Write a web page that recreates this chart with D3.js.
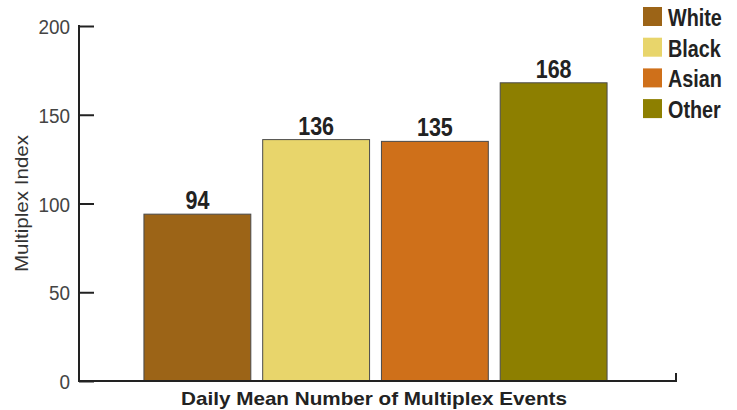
<!DOCTYPE html>
<html>
<head>
<meta charset="utf-8">
<script src="https://cdn.jsdelivr.net/npm/d3@7/dist/d3.min.js"></script>
<style>
  html, body { margin: 0; padding: 0; background: #fff; }
  svg { display: block; }
  .cond { font-family: "Liberation Sans", Arial, sans-serif; font-weight: bold; }
</style>
</head>
<body>
<svg id="chart" width="737" height="410"></svg>
<script>
// Multiplex index by race group
const categories = ["White", "Black", "Asian", "Other"];
const values = [94, 136, 135, 168];
const colors = ["#9C6417", "#E8D56B", "#CF701A", "#8D7F00"];
const yTicks = [0, 50, 100, 150, 200];
const xTitle = "Daily Mean Number of Multiplex Events";
const yTitle = "Multiplex Index";

const svg = d3.select("#chart");

const x0 = 79, x1 = 676, yTop = 26, yBottom = 381;
const squeeze = 0.86; // horizontal compression for the heavy condensed labels

const y = d3.scaleLinear().domain([0, 200]).range([yBottom, yTop]);
const x = d3.scaleBand().domain(categories).range([138, 613]).paddingInner(0.1).paddingOuter(0.05);

// bars
svg.append("g").selectAll("rect")
  .data(categories)
  .join("rect")
  .attr("x", d => x(d))
  .attr("width", x.bandwidth())
  .attr("y", (d, i) => y(values[i]))
  .attr("height", (d, i) => y(0) - y(values[i]))
  .attr("fill", (d, i) => colors[i])
  .attr("stroke", "#4a4a4a")
  .attr("stroke-width", 1);

// value labels
svg.append("g").selectAll("text")
  .data(categories)
  .join("text")
  .attr("class", "cond")
  .attr("transform", (d, i) => `translate(${x(d) + x.bandwidth() / 2},${y(values[i]) - 5}) scale(${squeeze},1)`)
  .attr("text-anchor", "middle")
  .attr("font-size", 25)
  .attr("fill", "#222")
  .text((d, i) => values[i]);

// y axis
const yAxis = d3.axisRight(y).tickValues(yTicks).tickSize(15).tickFormat("");
const gy = svg.append("g").attr("transform", `translate(${x0},0)`).call(yAxis);
gy.select(".domain").remove();
gy.selectAll(".tick line").attr("stroke", "#222").attr("stroke-width", 2);

svg.append("line")
  .attr("x1", x0).attr("x2", x0)
  .attr("y1", y(200) - 1).attr("y2", y(0) + 1)
  .attr("stroke", "#222").attr("stroke-width", 2);

svg.append("g").selectAll("text")
  .data(yTicks)
  .join("text")
  .attr("transform", d => `translate(70,${y(d) + 8}) scale(0.9,1)`)
  .attr("text-anchor", "end")
  .attr("font-family", "Liberation Sans, Arial, sans-serif")
  .attr("font-size", 21)
  .attr("fill", "#444")
  .text(d => d);

// x axis baseline with end tick
svg.append("path")
  .attr("d", `M${x0},${y(0)}H${x1}V${y(0) - 8}`)
  .attr("fill", "none")
  .attr("stroke", "#222")
  .attr("stroke-width", 2);

// axis titles
svg.append("text")
  .attr("x", 181)
  .attr("y", 405)
  .attr("textLength", 386)
  .attr("lengthAdjust", "spacingAndGlyphs")
  .attr("font-family", "Liberation Sans, Arial, sans-serif")
  .attr("font-weight", "bold")
  .attr("font-size", 19)
  .attr("fill", "#222")
  .text(xTitle);

svg.append("text")
  .attr("transform", "translate(28,272) rotate(-90)")
  .attr("textLength", 137)
  .attr("lengthAdjust", "spacingAndGlyphs")
  .attr("font-family", "Liberation Sans, Arial, sans-serif")
  .attr("font-size", 19)
  .attr("fill", "#333")
  .text(yTitle);

// legend
const legend = svg.append("g").selectAll("g")
  .data(categories)
  .join("g")
  .attr("transform", (d, i) => `translate(643,${7 + i * 30.7})`);
legend.append("rect")
  .attr("width", 19).attr("height", 19)
  .attr("fill", (d, i) => colors[i]);
legend.append("text")
  .attr("class", "cond")
  .attr("transform", `translate(25,19) scale(${squeeze},1)`)
  .attr("font-size", 23)
  .attr("fill", "#222")
  .text(d => d);
</script>
</body>
</html>
